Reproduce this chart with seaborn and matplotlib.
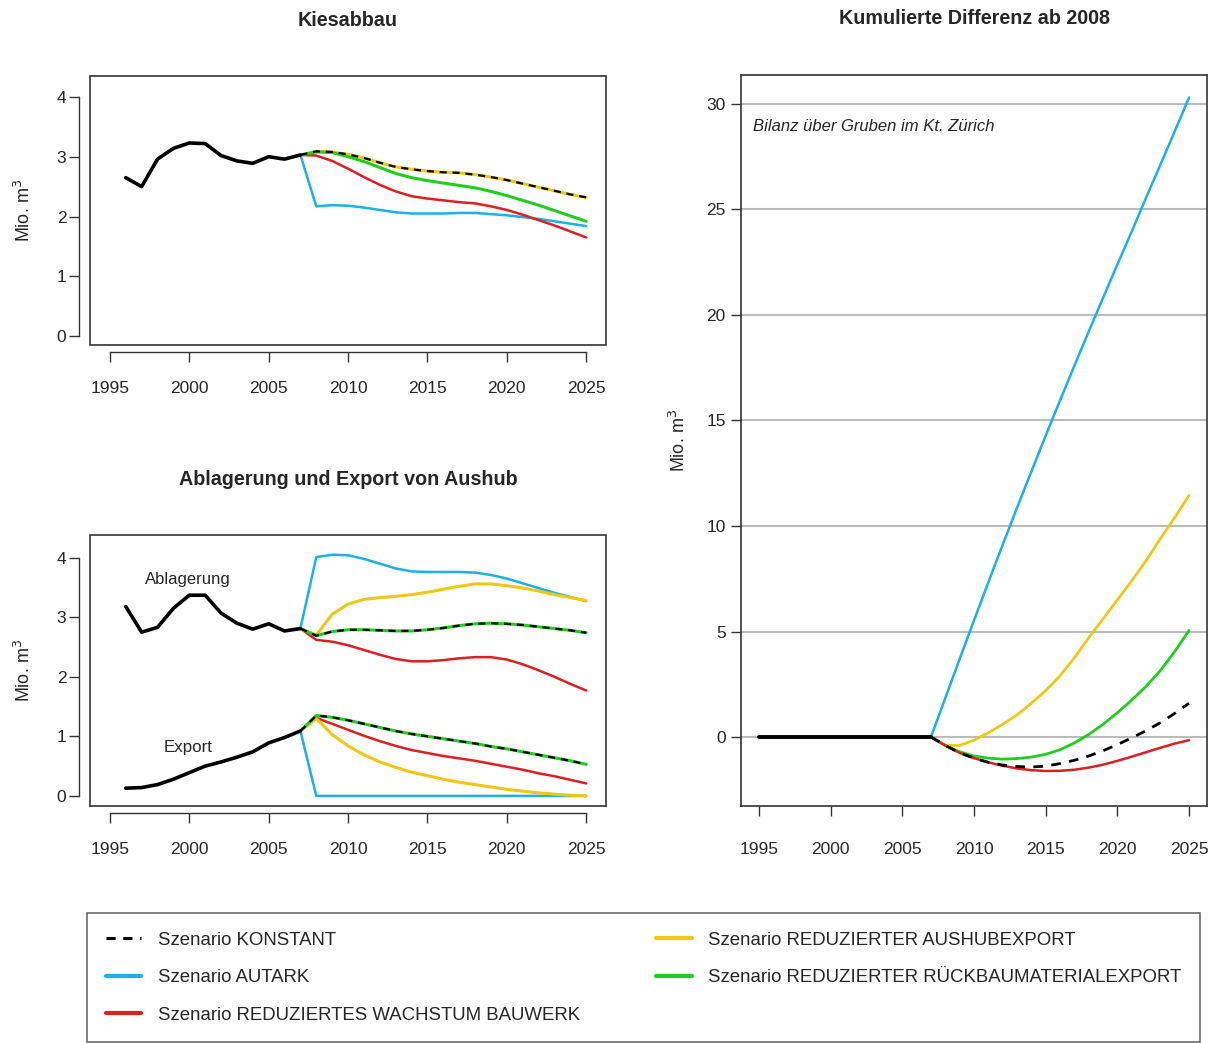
import numpy as np
import pandas as pd
import matplotlib
matplotlib.use("Agg")
import matplotlib.pyplot as plt
from matplotlib.lines import Line2D
from matplotlib.patches import Rectangle
import seaborn as sns

sns.set_theme(style="white")
plt.rcParams['font.family'] = ['Liberation Sans', 'DejaVu Sans']

# ---------------- data ----------------
hist_years = list(range(1996, 2008))
scen_years = list(range(2007, 2026))

kies_hist = [2.65, 2.50, 2.96, 3.14, 3.23, 3.22, 3.02, 2.93, 2.89, 3.00, 2.96, 3.03]
kies_konstant = [3.03, 3.09, 3.08, 3.04, 2.98, 2.90, 2.83, 2.79, 2.76, 2.74, 2.73, 2.70, 2.66,
                 2.61, 2.55, 2.49, 2.43, 2.37, 2.32]
kies_autark = [3.03, 2.17, 2.19, 2.18, 2.15, 2.11, 2.07, 2.05, 2.05, 2.05, 2.06, 2.06, 2.04,
               2.02, 1.99, 1.96, 1.92, 1.88, 1.84]
kies_bauwerk = [3.03, 3.02, 2.93, 2.80, 2.66, 2.53, 2.42, 2.34, 2.30, 2.27, 2.24, 2.22, 2.17,
                2.11, 2.03, 1.94, 1.85, 1.75, 1.65]
kies_aushub = kies_konstant
kies_rueckbau = [3.03, 3.08, 3.07, 3.00, 2.92, 2.82, 2.72, 2.65, 2.60, 2.56, 2.52, 2.48, 2.42,
                 2.35, 2.27, 2.19, 2.10, 2.01, 1.92]

abl_hist = [3.18, 2.75, 2.83, 3.15, 3.37, 3.37, 3.07, 2.90, 2.80, 2.89, 2.77, 2.81]
abl_konstant = [2.81, 2.69, 2.76, 2.79, 2.79, 2.78, 2.77, 2.77, 2.79, 2.82, 2.86, 2.89, 2.90,
                2.89, 2.87, 2.84, 2.81, 2.78, 2.74]
abl_autark = [2.81, 4.01, 4.05, 4.04, 3.98, 3.90, 3.82, 3.77, 3.76, 3.76, 3.76, 3.75, 3.71,
              3.65, 3.57, 3.49, 3.41, 3.34, 3.27]
abl_bauwerk = [2.81, 2.62, 2.59, 2.53, 2.45, 2.37, 2.30, 2.26, 2.26, 2.28, 2.31, 2.33, 2.33,
               2.29, 2.21, 2.11, 2.00, 1.88, 1.77]
abl_aushub = [2.81, 2.70, 3.05, 3.22, 3.30, 3.33, 3.35, 3.38, 3.42, 3.47, 3.52, 3.56, 3.56,
              3.53, 3.49, 3.44, 3.38, 3.33, 3.28]
abl_rueckbau = abl_konstant

exp_hist = [0.13, 0.14, 0.19, 0.28, 0.39, 0.50, 0.57, 0.65, 0.74, 0.89, 0.98, 1.09]
exp_konstant = [1.09, 1.35, 1.32, 1.27, 1.21, 1.15, 1.09, 1.04, 1.00, 0.96, 0.92, 0.88, 0.83,
                0.79, 0.74, 0.69, 0.64, 0.59, 0.53]
exp_autark = [1.09, 0.0, 0.0, 0.0, 0.0, 0.0, 0.0, 0.0, 0.0, 0.0, 0.0, 0.0, 0.0,
              0.0, 0.0, 0.0, 0.0, 0.0, 0.0]
exp_bauwerk = [1.09, 1.31, 1.21, 1.11, 1.01, 0.92, 0.84, 0.77, 0.72, 0.67, 0.63, 0.59, 0.54,
               0.49, 0.44, 0.38, 0.33, 0.27, 0.21]
exp_aushub = [1.09, 1.30, 1.03, 0.84, 0.69, 0.57, 0.48, 0.40, 0.34, 0.28, 0.23, 0.19, 0.15,
              0.11, 0.08, 0.05, 0.03, 0.01, 0.0]
exp_rueckbau = exp_konstant

cum_years_hist = list(range(1995, 2008))
cum_hist = [0.0] * 13
cum_konstant = [0.0, -0.40, -0.75, -1.00, -1.20, -1.33, -1.40, -1.42, -1.38, -1.26, -1.10, -0.90,
                -0.65, -0.36, -0.04, 0.30, 0.68, 1.12, 1.60]
cum_autark = [0.0, 1.85, 3.70, 5.53, 7.33, 9.11, 10.86, 12.58, 14.28, 15.95, 17.59, 19.21,
              20.81, 22.39, 23.95, 25.55, 27.12, 28.70, 30.30]
cum_bauwerk = [0.0, -0.40, -0.75, -1.00, -1.20, -1.36, -1.49, -1.57, -1.61, -1.60, -1.55, -1.45,
               -1.31, -1.13, -0.93, -0.72, -0.51, -0.31, -0.15]
cum_aushub = [0.0, -0.40, -0.40, -0.15, 0.20, 0.60, 1.05, 1.60, 2.20, 2.90, 3.75, 4.70, 5.60,
              6.50, 7.40, 8.35, 9.40, 10.40, 11.45]
cum_rueckbau = [0.0, -0.40, -0.70, -0.90, -1.00, -1.05, -1.02, -0.95, -0.82, -0.60, -0.28, 0.12,
                0.60, 1.15, 1.75, 2.40, 3.15, 4.05, 5.05]

labels = ['Szenario KONSTANT', 'Szenario AUTARK', 'Szenario REDUZIERTES WACHSTUM BAUWERK',
          'Szenario REDUZIERTER AUSHUBEXPORT', 'Szenario REDUZIERTER RÜCKBAUMATERIALEXPORT']

BLUE = '#1BB0E6'
RED = '#DD1F1F'
GREEN = '#1FCF1F'
YELLOW = '#EEC814'
DASH = (0, (3.2, 2.6))
TICK_FS = 12.5

fig = plt.figure(figsize=(12.15, 10.43), dpi=100)
ax1 = fig.add_axes([0.0741, 0.6692, 0.4247, 0.2579])
ax2 = fig.add_axes([0.0741, 0.2272, 0.4247, 0.2598])
ax3 = fig.add_axes([0.6099, 0.2272, 0.3835, 0.7009])


def draw_scenarios(ax, konst, autark, bauwerk, aushub, rueckbau):
    sns.lineplot(x=scen_years, y=autark, ax=ax, color=BLUE, lw=1.8)
    sns.lineplot(x=scen_years, y=bauwerk, ax=ax, color=RED, lw=1.8)
    sns.lineplot(x=scen_years, y=aushub, ax=ax, color=YELLOW, lw=2.2)
    sns.lineplot(x=scen_years, y=rueckbau, ax=ax, color=GREEN, lw=2.2)
    sns.lineplot(x=scen_years, y=konst, ax=ax, color='black', lw=1.6, linestyle=DASH)


def r_style(ax, ylim, yticks):
    ax.set_xlim(1993.75, 2026.25)
    ax.set_ylim(*ylim)
    ax.set_xticks(range(1995, 2026, 5))
    ax.set_yticks(yticks)
    for s in ['top', 'right']:
        ax.spines[s].set_visible(False)
    ax.spines['left'].set_position(('outward', 8))
    ax.spines['bottom'].set_position(('outward', 5))
    ax.spines['left'].set_bounds(yticks[0], yticks[-1])
    ax.spines['bottom'].set_bounds(1995, 2025)
    for s in ['left', 'bottom']:
        ax.spines[s].set_color('#333333')
        ax.spines[s].set_linewidth(1.0)
    ax.add_patch(Rectangle((0, 0), 1, 1, transform=ax.transAxes, fill=False,
                           ec='#333333', lw=1.2, clip_on=False, zorder=5))
    ax.tick_params(axis='both', which='both', direction='out', length=7, width=1.0,
                   color='#333333', labelsize=TICK_FS, left=True, bottom=True)
    ax.tick_params(axis='x', pad=14)
    ax.tick_params(axis='y', pad=2)
    ax.set_xlabel('')
    ax.set_ylabel('Mio. m$^3$', fontsize=13)
    ax.yaxis.set_label_coords(-0.108, 0.5)


# ---------- Kiesabbau ----------
draw_scenarios(ax1, kies_konstant, kies_autark, kies_bauwerk, kies_aushub, kies_rueckbau)
sns.lineplot(x=hist_years, y=kies_hist, ax=ax1, color='black', lw=2.6)
r_style(ax1, (-0.15, 4.35), [0, 1, 2, 3, 4])
ax1.set_title('Kiesabbau', fontsize=14.2, fontweight='bold', pad=36)

# ---------- Ablagerung / Export ----------
draw_scenarios(ax2, abl_konstant, abl_autark, abl_bauwerk, abl_aushub, abl_rueckbau)
draw_scenarios(ax2, exp_konstant, exp_autark, exp_bauwerk, exp_aushub, exp_rueckbau)
sns.lineplot(x=hist_years, y=abl_hist, ax=ax2, color='black', lw=2.6)
sns.lineplot(x=hist_years, y=exp_hist, ax=ax2, color='black', lw=2.6)
r_style(ax2, (-0.17, 4.38), [0, 1, 2, 3, 4])
ax2.set_title('Ablagerung und Export von Aushub', fontsize=14.2, fontweight='bold', pad=36)
ax2.text(1999.9, 3.63, 'Ablagerung', ha='center', va='center', fontsize=12)
ax2.text(1999.9, 0.82, 'Export', ha='center', va='center', fontsize=12.2)

# ---------- Kumulierte Differenz ----------
for v in range(0, 31, 5):
    ax3.axhline(v, color='#BBBBBB', lw=1.5, zorder=0)
sns.lineplot(x=scen_years, y=cum_autark, ax=ax3, color=BLUE, lw=1.8)
sns.lineplot(x=scen_years, y=cum_aushub, ax=ax3, color=YELLOW, lw=2.0)
sns.lineplot(x=scen_years, y=cum_rueckbau, ax=ax3, color=GREEN, lw=2.0)
sns.lineplot(x=scen_years, y=cum_bauwerk, ax=ax3, color=RED, lw=1.8)
sns.lineplot(x=scen_years, y=cum_konstant, ax=ax3, color='black', lw=2.0, linestyle=(0, (3.5, 3)))
sns.lineplot(x=cum_years_hist, y=cum_hist, ax=ax3, color='black', lw=2.8)
ax3.set_xlim(1993.75, 2026.25)
ax3.set_ylim(-3.27, 31.37)
ax3.set_xticks(range(1995, 2026, 5))
ax3.set_yticks(range(0, 31, 5))
for s in ax3.spines.values():
    s.set_color('#333333')
    s.set_linewidth(1.2)
ax3.tick_params(axis='both', direction='out', length=7, width=1.0, color='#333333',
                labelsize=TICK_FS, left=True, bottom=True)
ax3.tick_params(axis='x', pad=19)
ax3.tick_params(axis='y', pad=4)
ax3.set_xlabel('')
ax3.set_ylabel('Mio. m$^3$', fontsize=13)
ax3.yaxis.set_label_coords(-0.111, 0.5)
ax3.set_title('Kumulierte Differenz ab 2008', fontsize=14.2, fontweight='bold', pad=37)
ax3.text(0.025, 0.93, 'Bilanz über Gruben im Kt. Zürich', transform=ax3.transAxes,
         fontsize=12, style='italic', ha='left', va='center')

# ---------- Legend ----------
handles = [
    Line2D([], [], color='black', lw=2.2, linestyle=(0, (3, 2.5))),
    Line2D([], [], color=BLUE, lw=3),
    Line2D([], [], color=RED, lw=3),
    Line2D([], [], color=YELLOW, lw=3),
    Line2D([], [], color=GREEN, lw=3),
]
leg = fig.legend(handles, labels, loc='upper left', bbox_to_anchor=(87 / 1215, 1 - 913 / 1043),
                 ncol=2, fontsize=13.4, frameon=True, fancybox=False, handlelength=1.9,
                 handletextpad=0.9, columnspacing=4.1, labelspacing=1.1, borderpad=1.0,
                 borderaxespad=0)
leg.get_frame().set_edgecolor('#444444')
leg.get_frame().set_linewidth(1.2)

fig.savefig('out.png', dpi=100)
